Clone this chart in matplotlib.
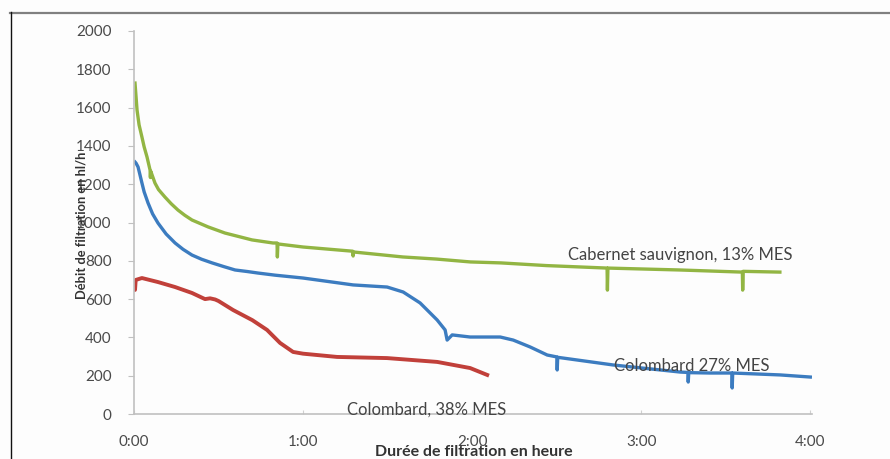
import matplotlib
matplotlib.use('Agg')
from matplotlib import pyplot as plt
from matplotlib.lines import Line2D
from matplotlib.ticker import FuncFormatter, MultipleLocator

plt.rcParams['font.family'] = ['Lato', 'DejaVu Sans']

# durée en heures, débit en hl/h
cab_h = [0.006, 0.018, 0.030, 0.047, 0.060, 0.077, 0.095, 0.097, 0.099, 0.124,
         0.145, 0.183, 0.220, 0.260, 0.300, 0.343, 0.438, 0.538, 0.698, 0.822,
         0.846, 0.848, 0.851, 1.0, 1.294, 1.296, 1.299, 1.59, 1.79, 1.99,
         2.17, 2.44, 2.798, 2.800, 2.803, 3.23, 3.598, 3.600, 3.603, 3.82]
cab_v = [1728, 1587, 1510, 1446, 1395, 1342, 1274, 1235, 1268, 1206,
         1172, 1133, 1098, 1065, 1038, 1013, 977, 945, 909, 893,
         893, 820, 888, 872, 850, 825, 846, 820, 809, 794,
         789, 775, 762, 647, 762, 752, 741, 647, 745, 741]

col27_h = [0.006, 0.012, 0.024, 0.035, 0.047, 0.060, 0.083, 0.110, 0.142, 0.190,
           0.243, 0.290, 0.343, 0.400, 0.462, 0.530, 0.598, 0.670, 0.734, 0.834,
           1.0, 1.296, 1.497, 1.592, 1.692, 1.793, 1.840, 1.852, 1.882, 1.988,
           2.166, 2.243, 2.343, 2.444, 2.501, 2.503, 2.506, 2.834, 3.231, 3.276,
           3.278, 3.281, 3.408, 3.536, 3.538, 3.541, 3.822, 4.0]
col27_v = [1316, 1310, 1290, 1250, 1206, 1160, 1102, 1045, 997, 940,
           893, 860, 830, 808, 789, 770, 752, 744, 736, 725,
           710, 674, 663, 637, 580, 491, 439, 386, 413, 402,
           402, 386, 350, 308, 298, 230, 296, 256, 219, 217,
           167, 216, 214, 214, 136, 214, 204, 193]

col38_h = [0.004, 0.006, 0.010, 0.047, 0.142, 0.243, 0.343, 0.420, 0.450, 0.480,
           0.500, 0.586, 0.700, 0.787, 0.805, 0.864, 0.941, 1.0, 1.201, 1.497,
           1.793, 1.988, 2.089]
col38_v = [690, 648, 700, 710, 689, 663, 632, 600, 604, 598,
           590, 543, 490, 439, 423, 371, 324, 315, 298, 292,
           272, 240, 204]

labels = ['Cabernet sauvignon, 13% MES', 'Colombard 27% MES', 'Colombard, 38% MES']
label_pos = [(3.23, 830), (3.30, 250), (1.73, 21)]

fig = plt.figure(figsize=(8.9, 4.59), dpi=100)
fig.patch.set_facecolor('#fdfdfd')
ax = fig.add_axes([134 / 890, 1 - 414 / 459, (812 - 134) / 890, (414 - 31) / 459])
ax.set_facecolor('#fdfdfd')

ax.plot(cab_h, cab_v, color='#92b543', lw=2.4, solid_joinstyle='round')
ax.plot(col27_h, col27_v, color='#3c7cc0', lw=2.4, solid_joinstyle='round')
ax.plot(col38_h, col38_v, color='#c1403a', lw=2.8, solid_joinstyle='round')

for txt, (x, y) in zip(labels, label_pos):
    ax.text(x, y, txt, ha='center', va='center', fontsize=12, color='#444444')

ax.set_xlim(0, 4.01)
ax.set_ylim(0, 2000)
ax.yaxis.set_major_locator(MultipleLocator(200))
ax.xaxis.set_major_locator(MultipleLocator(1))
ax.xaxis.set_major_formatter(FuncFormatter(lambda v, p: '%d:00' % int(round(v))))

for s in ['top', 'right']:
    ax.spines[s].set_visible(False)
for s in ['left', 'bottom']:
    ax.spines[s].set_color('#c0c0c0')
    ax.spines[s].set_linewidth(1.2)
ax.tick_params(axis='y', direction='out', length=4, color='#c0c0c0', pad=12,
               labelsize=11, labelcolor='#4a4a4a')
ax.tick_params(axis='x', direction='in', length=3, color='#d0d0d0', pad=15,
               labelsize=11, labelcolor='#4a4a4a')

ax.set_xlabel('Durée de filtration en heure', fontsize=11.5, fontweight='bold',
              color='#333333')
ax.xaxis.set_label_coords((474 - 134) / 678, -(445 - 414) / 383)
ax.set_ylabel('Débit de filtration en hl/h', fontsize=9.3, fontweight='bold',
              color='#333333')
ax.yaxis.set_label_coords(-(134 - 88) / 678, (414 - 225) / 383)

# cadre de la figure
fig.add_artist(Line2D([10 / 890, 1], [1 - 12.5 / 459, 1 - 12.5 / 459],
                      color='#808080', lw=1.6, transform=fig.transFigure))
fig.add_artist(Line2D([10.5 / 890, 10.5 / 890], [0, 1 - 12 / 459],
                      color='#111111', lw=1.0, transform=fig.transFigure))

fig.savefig('out.png', dpi=100, facecolor=fig.get_facecolor())
